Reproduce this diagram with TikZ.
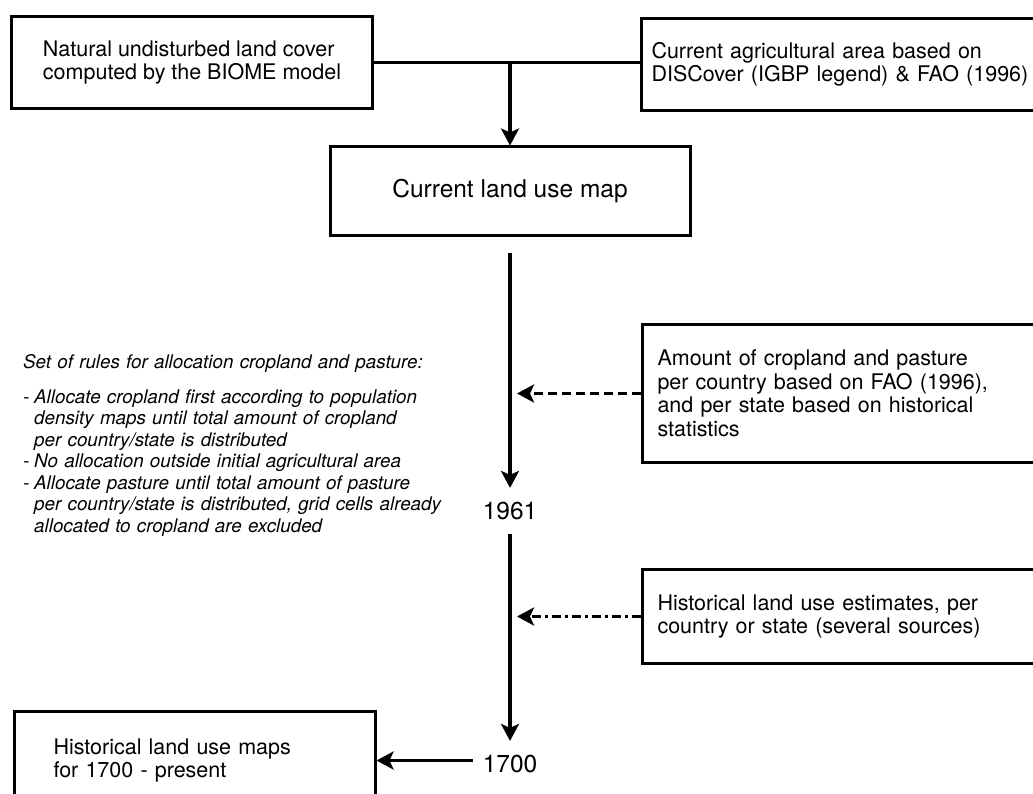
\documentclass[tikz,border=0pt]{standalone}
\usepackage{fontspec}
\setmainfont{TeX Gyre Heros}
\usetikzlibrary{arrows.meta}
\newcommand\rbul{\makebox[11pt][l]{-}}
\newcommand\rind{\hspace*{11pt}}

\begin{document}
\begin{tikzpicture}[x=1pt,y=-1pt,
    box/.style={draw=black,line width=3pt,anchor=north west,align=left,
      font=\fontsize{21.5}{23.5}\selectfont},
    year/.style={font=\fontsize{24.5}{28}\selectfont,inner xsep=10pt,inner ysep=14pt},
    flow/.style={line width=3.3pt,-{Stealth[length=17pt,width=18pt,inset=4pt]}},
    feed/.style={flow,shorten >=7pt,dash pattern=on 9pt off 5pt},
    feeddot/.style={flow,shorten >=7pt,dash pattern=on 9pt off 4pt on 3pt off 4pt}]
\useasboundingbox (0,0) rectangle (1033,794);
\clip (0,0) rectangle (1033,794);

\node[box,minimum width=361pt,minimum height=92pt] (biome) at (10,15)
  {Natural undisturbed land cover\\computed by the BIOME model};
\node[box,inner xsep=10pt,text width=440pt,minimum height=92pt] (agri) at (640,17)
  {Current agricultural area based on\\DISCover (IGBP legend) \& FAO (1996)};
\node[box,anchor=center,align=center,minimum width=360pt,minimum height=89pt,
  font=\fontsize{24.5}{28}\selectfont] (current) at (510,191.5) {Current land use map};
\node[box,inner xsep=15.5pt,text width=430pt,minimum height=138pt] (amount) at (640.5,323)
  {Amount of cropland and pasture\\per country based on FAO (1996),\\and per state based on historical\\statistics};
\node[box,inner xsep=15.5pt,text width=430pt,minimum height=94pt] (est) at (640.5,568)
  {Historical land use estimates, per\\country or state (several sources)};
\node[box,inner xsep=39.5pt,text width=282pt,minimum height=98pt] (maps) at (12.5,710)
  {Historical land use maps\\for 1700 - present};

\node[year] (y1961) at (510,511) {1961};
\node[year] (y1700) at (510,764) {1700};

\node[anchor=base west,inner sep=0pt,text width=450pt,align=left,
  font=\fontsize{18.8}{21.5}\selectfont\itshape] (rules) at (23,368)
  {Set of rules for allocation cropland and pasture:\\[13.5pt]
   \rbul Allocate cropland first according to population\\
   \rind density maps until total amount of cropland\\
   \rind per country/state is distributed\\
   \rbul No allocation outside initial agricultural area\\
   \rbul Allocate pasture until total amount of pasture\\
   \rind per country/state is distributed, grid cells already\\
   \rind allocated to cropland are excluded};

\coordinate (split) at (biome.east -| current.north);
\draw[line width=2.8pt] (biome.east) -- (biome.east -| agri.west);
\draw[flow] (split) -- (current.north);
\draw[flow,shorten <=16pt] (current.south) -- (y1961);
\draw[flow] (y1961) -- (y1700);
\draw[feed] (amount.west) -- (amount.west -| current.south);
\draw[feeddot] (est.west) -- (est.west -| current.south);
\draw[flow] (maps.east -| y1700.west) -- (maps.east);
\end{tikzpicture}
\end{document}
